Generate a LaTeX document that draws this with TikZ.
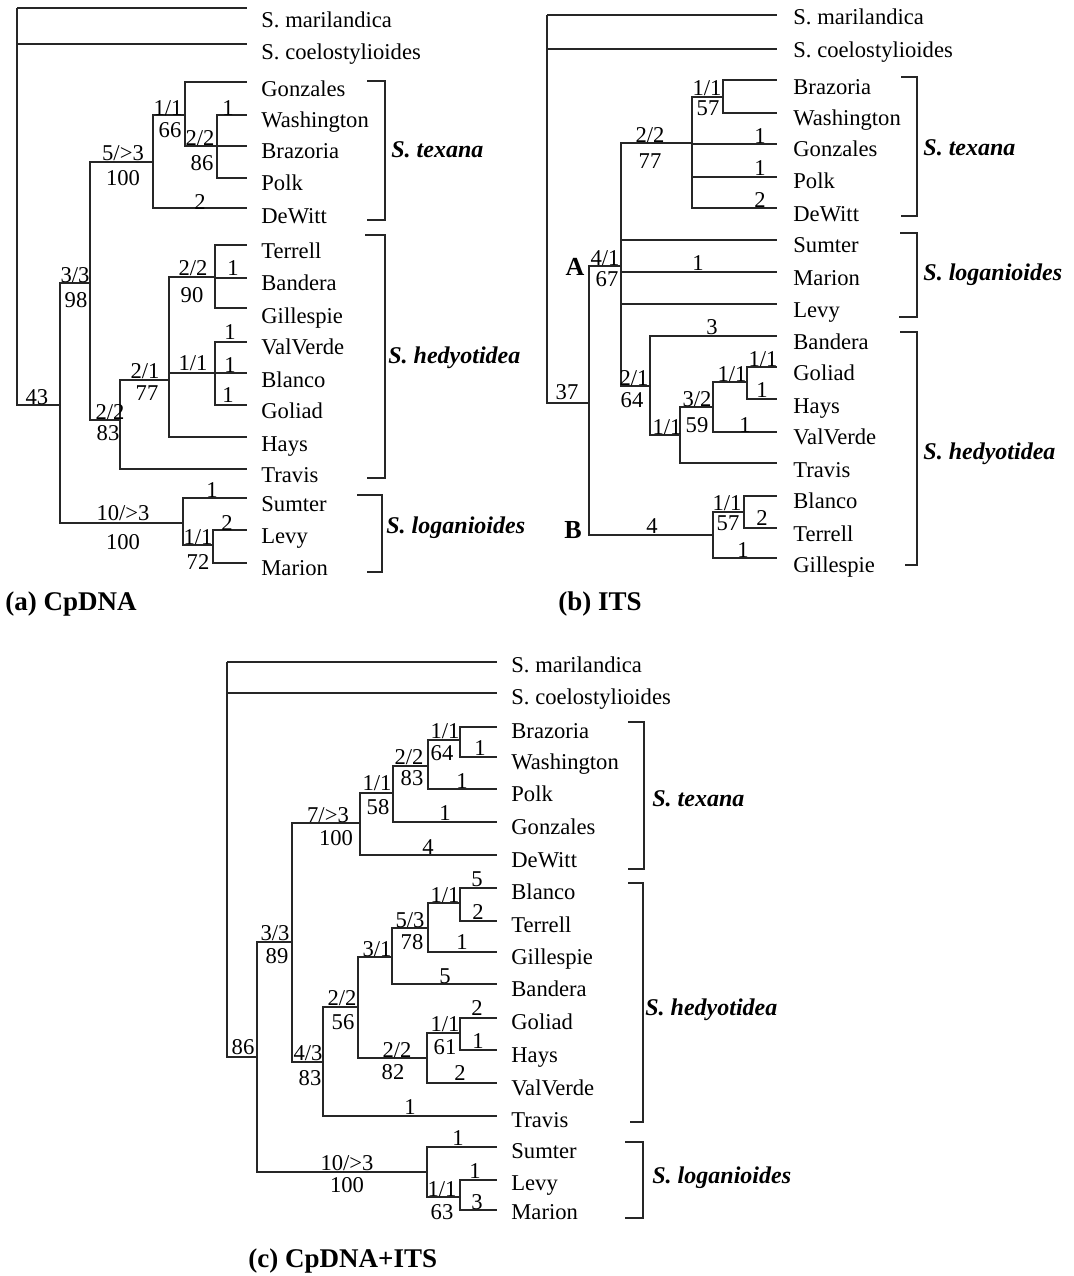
\documentclass[tikz,border=0pt]{standalone}
\usepackage{fontspec}
\setmainfont{Liberation Serif}
\begin{document}
\begin{tikzpicture}[x=0.5pt,y=-0.5pt,
  br/.style={draw=black!85, line width=0.6pt},
  leaf/.style={anchor=base west, inner sep=0pt, font=\fontsize{11.3}{13}\selectfont},
  lab/.style={inner sep=0pt, font=\fontsize{11.3}{13}\selectfont},
  clade/.style={anchor=base west, inner sep=0pt, font=\fontsize{12}{14}\selectfont\bfseries\itshape},
  ttl/.style={anchor=base west, inner sep=0pt, font=\fontsize{13.5}{16}\selectfont\bfseries},
  knot/.style={inner sep=0pt, font=\fontsize{13}{15}\selectfont\bfseries}]
\useasboundingbox (0,0) rectangle (1073,1276);

% (a) CpDNA
\foreach \n/\y/\b/\t in {aMar/8/27/S. marilandica, aCoe/44/59/S. coelostylioides,
  aGon/82/96/Gonzales, aWas/115/127/Washington, aBra/146/158/Brazoria,
  aPol/178/190/Polk, aDeW/208/223/DeWitt, aTer/245/258/Terrell,
  aBan/278/290/Bandera, aGil/308/323/Gillespie, aVal/342/354/ValVerde,
  aBla/373/387/Blanco, aGol/405/418/Goliad, aHay/437/451/Hays,
  aTra/469/482/Travis, aSum/498/511/Sumter, aLev/530/543/Levy, aMari/563/575/Marion}{
  \coordinate (\n) at (247,\y);
  \node[leaf] (\n-t) at (261,\b) {\t};
}
\coordinate (aR) at (17,8);
\coordinate (aIn) at (60,405);
\coordinate (aTH) at (90,283);
\coordinate (aTex) at (153,162);
\coordinate (aTG) at (185,115);
\coordinate (aWBP) at (217,146);
\coordinate (aHed) at (120,420);
\coordinate (aH1) at (169,380);
\coordinate (aH2) at (215,277);
\coordinate (aH3) at (215,373);
\coordinate (aLog) at (183,523);
\coordinate (aLM) at (213,545);
\foreach \p/\c in {aR/aMar, aR/aCoe, aR/aIn, aIn/aTH, aIn/aLog, aTH/aTex, aTH/aHed,
  aTex/aTG, aTex/aDeW, aTG/aGon, aTG/aWBP, aWBP/aWas, aWBP/aBra, aWBP/aPol,
  aHed/aH1, aHed/aTra, aH1/aH2, aH1/aH3, aH1/aHay, aH2/aTer, aH2/aBan, aH2/aGil,
  aH3/aVal, aH3/aBla, aH3/aGol, aLog/aSum, aLog/aLM, aLM/aLev, aLM/aMari}
  \draw[br] (\p) |- (\c);

\node[lab] (la1) at (37,397) {43};
\node[lab] (la2) at (75,275) {3/3};
\node[lab] (la3) at (76,300) {98};
\node[lab] (la4) at (123,153) {5/>3};
\node[lab] (la5) at (123,178) {100};
\node[lab] (la6) at (168,108) {1/1};
\node[lab] (la7) at (170,130) {66};
\node[lab] (la8) at (228,108) {1};
\node[lab] (la9) at (200,138) {2/2};
\node[lab] (la10) at (202,163) {86};
\node[lab] (la11) at (200,202) {2};
\node[lab] (la12) at (193,268) {2/2};
\node[lab] (la13) at (192,295) {90};
\node[lab] (la14) at (233,268) {1};
\node[lab] (la15) at (230,332) {1};
\node[lab] (la16) at (193,363) {1/1};
\node[lab] (la17) at (230,365) {1};
\node[lab] (la18) at (228,395) {1};
\node[lab] (la19) at (145,371) {2/1};
\node[lab] (la20) at (147,393) {77};
\node[lab] (la21) at (110,412) {2/2};
\node[lab] (la22) at (108,433) {83};
\node[lab] (la23) at (212,490) {1};
\node[lab] (la24) at (123,513) {10/>3};
\node[lab] (la25) at (123,542) {100};
\node[lab] (la26) at (227,523) {2};
\node[lab] (la27) at (198,537) {1/1};
\node[lab] (la28) at (198,562) {72};

\draw[br] (367,81) -| (385,220) -- (367,220);
\draw[br] (365,235) -| (385,478) -- (367,478);
\draw[br] (357,495) -| (382,572) -- (367,572);
\node[clade] (aTexN) at (391,157) {S. texana};
\node[clade] (aHedN) at (388,363) {S. hedyotidea};
\node[clade] (aLogN) at (386,533) {S. loganioides};
\node[ttl] (aTtl) at (5,610) {(a) CpDNA};

% (b) ITS
\foreach \n/\y/\b/\t in {bMar/15/24/S. marilandica, bCoe/49/57/S. coelostylioides,
  bBra/80/94/Brazoria, bWas/113/125/Washington, bGon/144/156/Gonzales,
  bPol/177/188/Polk, bDeW/208/221/DeWitt, bSum/240/252/Sumter,
  bMari/272/285/Marion, bLev/304/317/Levy, bBan/336/349/Bandera,
  bGol/367/380/Goliad, bHay/399/413/Hays, bVal/432/444/ValVerde,
  bTra/463/477/Travis, bBla/496/508/Blanco, bTer/528/541/Terrell, bGil/558/572/Gillespie}{
  \coordinate (\n) at (777,\y);
  \node[leaf] (\n-t) at (793,\b) {\t};
}
\coordinate (bR) at (547,15);
\coordinate (bIn) at (589,403);
\coordinate (bNA) at (621,266);
\coordinate (bTex) at (692,143);
\coordinate (bBW) at (723,97);
\coordinate (bH) at (650,386);
\coordinate (bH1) at (680,435);
\coordinate (bH2) at (713,407);
\coordinate (bH3) at (747,382);
\coordinate (bNB) at (713,535);
\coordinate (bBT) at (744,512);
\foreach \p/\c in {bR/bMar, bR/bCoe, bR/bIn, bIn/bNA, bIn/bNB, bNA/bTex, bNA/bSum,
  bNA/bMari, bNA/bLev, bNA/bH, bTex/bBW, bTex/bGon, bTex/bPol, bTex/bDeW,
  bBW/bBra, bBW/bWas, bH/bBan, bH/bH1, bH1/bH2, bH1/bTra, bH2/bH3, bH2/bVal,
  bH3/bGol, bH3/bHay, bNB/bBT, bNB/bGil, bBT/bBla, bBT/bTer}
  \draw[br] (\p) |- (\c);

\node[lab] (lb1) at (567,392) {37};
\node[knot] (lb2) at (575,267) {A};
\node[knot] (lb3) at (573,530) {B};
\node[lab] (lb4) at (605,258) {4/1};
\node[lab] (lb5) at (607,279) {67};
\node[lab] (lb6) at (652,526) {4};
\node[lab] (lb7) at (650,135) {2/2};
\node[lab] (lb8) at (650,161) {77};
\node[lab] (lb9) at (707,88) {1/1};
\node[lab] (lb10) at (708,108) {57};
\node[lab] (lb11) at (760,136) {1};
\node[lab] (lb12) at (760,168) {1};
\node[lab] (lb13) at (760,200) {2};
\node[lab] (lb14) at (698,263) {1};
\node[lab] (lb15) at (712,327) {3};
\node[lab] (lb16) at (634,378) {2/1};
\node[lab] (lb17) at (632,400) {64};
\node[lab] (lb18) at (667,427) {1/1};
\node[lab] (lb19) at (697,399) {3/2};
\node[lab] (lb20) at (697,425) {59};
\node[lab] (lb21) at (732,374) {1/1};
\node[lab] (lb22) at (763,359) {1/1};
\node[lab] (lb23) at (762,390) {1};
\node[lab] (lb24) at (745,425) {1};
\node[lab] (lb25) at (727,503) {1/1};
\node[lab] (lb26) at (728,523) {57};
\node[lab] (lb27) at (762,518) {2};
\node[lab] (lb28) at (743,550) {1};

\draw[br] (901,77) -| (917,216) -- (901,216);
\draw[br] (900,233) -| (917,317) -- (899,317);
\draw[br] (900,332) -| (917,565) -- (905,565);
\node[clade] (bTexN) at (923,155) {S. texana};
\node[clade] (bLogN) at (923,280) {S. loganioides};
\node[clade] (bHedN) at (923,459) {S. hedyotidea};
\node[ttl] (bTtl) at (558,610) {(b) ITS};

% (c) CpDNA+ITS
\foreach \n/\y/\b/\t in {cMar/662/672/S. marilandica, cCoe/693/704/S. coelostylioides,
  cBra/727/738/Brazoria, cWas/757/769/Washington, cPol/789/801/Polk,
  cGon/822/834/Gonzales, cDeW/855/867/DeWitt, cBla/888/899/Blanco,
  cTer/921/932/Terrell, cGil/952/964/Gillespie, cBan/984/996/Bandera,
  cGol/1018/1029/Goliad, cHay/1050/1062/Hays, cVal/1083/1095/ValVerde,
  cTra/1116/1127/Travis, cSum/1147/1158/Sumter, cLev/1180/1190/Levy, cMari/1210/1219/Marion}{
  \coordinate (\n) at (497,\y);
  \node[leaf] (\n-t) at (511,\b) {\t};
}
\coordinate (cR) at (227,662);
\coordinate (cIn) at (257,1057);
\coordinate (cUp) at (292,942);
\coordinate (cTex) at (360,823);
\coordinate (cT1) at (393,793);
\coordinate (cT2) at (428,766);
\coordinate (cT3) at (460,740);
\coordinate (cHed) at (323,1062);
\coordinate (cH1) at (358,1007);
\coordinate (cH2) at (392,957);
\coordinate (cH4) at (428,928);
\coordinate (cH5) at (460,903);
\coordinate (cH3) at (427,1058);
\coordinate (cH6) at (460,1033);
\coordinate (cLog) at (427,1172);
\coordinate (cLM) at (460,1197);
\foreach \p/\c in {cR/cMar, cR/cCoe, cR/cIn, cIn/cUp, cIn/cLog, cUp/cTex, cUp/cHed,
  cTex/cT1, cTex/cDeW, cT1/cT2, cT1/cGon, cT2/cT3, cT2/cPol, cT3/cBra, cT3/cWas,
  cHed/cH1, cHed/cTra, cH1/cH2, cH1/cH3, cH2/cH4, cH2/cBan, cH4/cH5, cH4/cGil,
  cH5/cBla, cH5/cTer, cH3/cH6, cH3/cVal, cH6/cGol, cH6/cHay,
  cLog/cSum, cLog/cLM, cLM/cLev, cLM/cMari}
  \draw[br] (\p) |- (\c);

\node[lab] (lc1) at (243,1047) {86};
\node[lab] (lc2) at (275,933) {3/3};
\node[lab] (lc3) at (277,956) {89};
\node[lab] (lc4) at (328,815) {7/>3};
\node[lab] (lc5) at (336,838) {100};
\node[lab] (lc6) at (377,783) {1/1};
\node[lab] (lc7) at (378,807) {58};
\node[lab] (lc8) at (409,757) {2/2};
\node[lab] (lc9) at (412,778) {83};
\node[lab] (lc10) at (445,731) {1/1};
\node[lab] (lc11) at (442,753) {64};
\node[lab] (lc12) at (480,748) {1};
\node[lab] (lc13) at (462,781) {1};
\node[lab] (lc14) at (445,813) {1};
\node[lab] (lc15) at (428,847) {4};
\node[lab] (lc16) at (477,879) {5};
\node[lab] (lc17) at (445,895) {1/1};
\node[lab] (lc18) at (478,912) {2};
\node[lab] (lc19) at (410,920) {5/3};
\node[lab] (lc20) at (412,942) {78};
\node[lab] (lc21) at (462,942) {1};
\node[lab] (lc22) at (377,949) {3/1};
\node[lab] (lc23) at (445,976) {5};
\node[lab] (lc24) at (342,998) {2/2};
\node[lab] (lc25) at (343,1022) {56};
\node[lab] (lc26) at (477,1008) {2};
\node[lab] (lc27) at (445,1024) {1/1};
\node[lab] (lc28) at (445,1047) {61};
\node[lab] (lc29) at (478,1041) {1};
\node[lab] (lc30) at (397,1050) {2/2};
\node[lab] (lc31) at (393,1072) {82};
\node[lab] (lc32) at (460,1073) {2};
\node[lab] (lc33) at (308,1053) {4/3};
\node[lab] (lc34) at (310,1078) {83};
\node[lab] (lc35) at (410,1107) {1};
\node[lab] (lc36) at (458,1138) {1};
\node[lab] (lc37) at (347,1163) {10/>3};
\node[lab] (lc38) at (347,1185) {100};
\node[lab] (lc39) at (475,1171) {1};
\node[lab] (lc40) at (442,1189) {1/1};
\node[lab] (lc41) at (442,1212) {63};
\node[lab] (lc42) at (477,1202) {3};

\draw[br] (628,722) -| (644,869) -- (628,869);
\draw[br] (628,883) -| (643,1122) -- (630,1122);
\draw[br] (625,1142) -| (643,1218) -- (625,1218);
\node[clade] (cTexN) at (652,806) {S. texana};
\node[clade] (cHedN) at (645,1015) {S. hedyotidea};
\node[clade] (cLogN) at (652,1183) {S. loganioides};
\node[ttl] (cTtl) at (248,1267) {(c) CpDNA+ITS};
\end{tikzpicture}
\end{document}
